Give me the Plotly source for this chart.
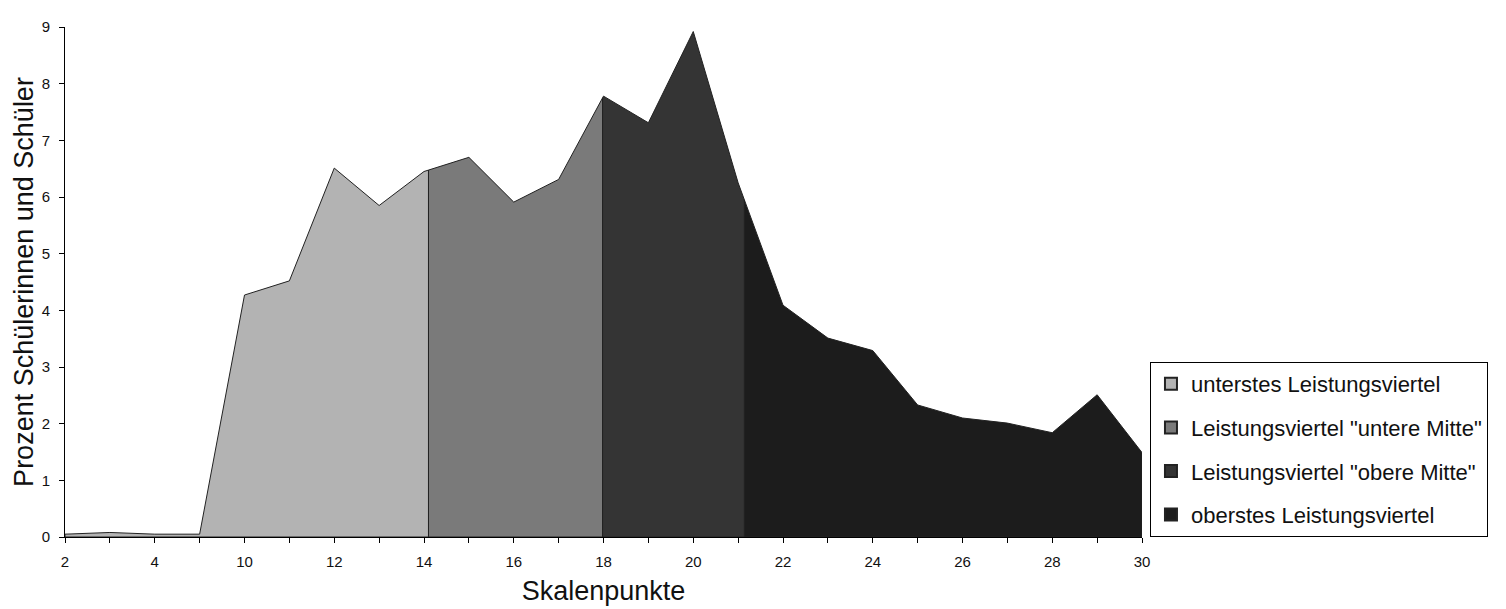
import numpy as np
import plotly.graph_objects as go

categories = ["2", "3", "4", "5", "10", "11", "12", "13", "14", "15", "16", "17", "18",
              "19", "20", "21", "22", "23", "24", "25", "26", "27", "28", "29", "30"]
percent = [0.05, 0.08, 0.05, 0.05, 4.27, 4.52, 6.51, 5.85, 6.45, 6.70, 5.91, 6.31, 7.78,
           7.31, 8.92, 6.25, 4.09, 3.51, 3.29, 2.33, 2.10, 2.01, 1.84, 2.51, 1.49]
group_names = ["unterstes Leistungsviertel",
               'Leistungsviertel "untere Mitte"',
               'Leistungsviertel "obere Mitte"',
               "oberstes Leistungsviertel"]
# quartile borders, expressed as positions on the category axis (index units)
group_cuts = [8.10, 11.98, 15.14]
group_colors = ["#b3b3b3", "#7a7a7a", "#343434", "#1c1c1c"]

pos = np.arange(len(categories), dtype=float)
bounds = [0.0] + group_cuts + [float(len(categories) - 1)]

fig = go.Figure()
for k, name in enumerate(group_names):
    a, b = bounds[k], bounds[k + 1]
    xs = [a] + [p for p in pos if a < p < b] + [b]
    ys = list(np.interp(xs, pos, percent))
    px = xs + [b, a, a]
    py = ys + [0, 0, ys[0]]
    fig.add_trace(go.Scatter(
        x=px, y=py, mode="lines", fill="toself", fillcolor=group_colors[k],
        line=dict(color="#222222", width=1), name=name, showlegend=False,
        hoverinfo="skip"))

# legend entries with square swatches
for k, name in enumerate(group_names):
    fig.add_trace(go.Scatter(
        x=[None], y=[None], mode="markers", name=name, legendgroup=f"g{k}",
        marker=dict(symbol="square", size=14, color=group_colors[k],
                    line=dict(color="#222222", width=1))))

font_family = "Liberation Sans, Arial, sans-serif"
fig.update_layout(
    width=1506, height=609,
    margin=dict(l=57, r=372, t=10, b=80),
    paper_bgcolor="white", plot_bgcolor="white",
    font=dict(family=font_family, color="#111111"),
    showlegend=True,
    legend=dict(
        x=1.0074, y=0, xanchor="left", yanchor="bottom",
        bordercolor="black", borderwidth=1, bgcolor="white",
        font=dict(size=22, family=font_family, color="#111111"),
        tracegroupgap=12, traceorder="grouped", itemsizing="constant"),
    xaxis=dict(
        range=[0, len(categories) - 1], tickmode="array", tickvals=list(pos),
        ticktext=[c if i % 2 == 0 else "" for i, c in enumerate(categories)],
        ticks="outside", ticklen=5, tickcolor="black", tickwidth=1,
        showline=True, linecolor="black", linewidth=1, showgrid=False, zeroline=False,
        tickfont=dict(size=15), ticklabelstandoff=6, fixedrange=True,
        title=dict(text="Skalenpunkte", font=dict(size=27), standoff=12)),
    yaxis=dict(
        range=[0, 9], tickmode="linear", tick0=0, dtick=1,
        ticks="outside", ticklen=5, tickcolor="black", tickwidth=1,
        showline=True, linecolor="black", linewidth=1, showgrid=False, zeroline=False,
        tickfont=dict(size=15), ticklabelstandoff=6, fixedrange=True,
        title=dict(text="Prozent Schülerinnen und Schüler", font=dict(size=27), standoff=0)),
)

fig.write_html("out.html")
